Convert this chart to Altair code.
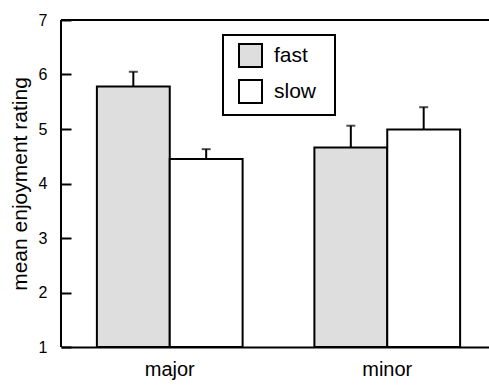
import altair as alt
import pandas as pd

keys = ["major", "major", "minor", "minor"]
speeds = ["fast", "slow", "fast", "slow"]
means = [5.78, 4.45, 4.66, 4.99]
uppers = [6.05, 4.63, 5.06, 5.40]
y_ticks = [1, 2, 3, 4, 5, 6, 7]
speed_order = ["fast", "slow"]
speed_colors = ["#dedede", "#ffffff"]

df = pd.DataFrame({"key": keys, "speed": speeds, "mean": means, "upper": uppers})

W, H = 428, 327
FONT = "Liberation Sans"

x = alt.X(
    "key:N",
    title=None,
    scale=alt.Scale(range=[0, 435], paddingInner=0.33, paddingOuter=0.165),
    axis=alt.Axis(ticks=False, domain=True, domainColor="black", domainWidth=2,
                  labelAngle=0, labelFontSize=20, labelPadding=12, labelColor="black",
                  labelFont=FONT),
)
xo = alt.XOffset("speed:N", sort=speed_order, scale=alt.Scale(paddingInner=0, paddingOuter=0))
yscale = alt.Scale(domain=[1, 7], nice=False, zero=False)
y = alt.Y(
    "mean:Q",
    scale=yscale,
    axis=alt.Axis(values=y_ticks, format="d", offset=-10, domain=False, ticks=True, tickSize=10,
                  tickWidth=2, tickColor="black", grid=False, labelFontSize=16,
                  labelPadding=14, labelColor="black", labelFont=FONT,
                  title="mean enjoyment rating", titleFontSize=21, titleFontWeight="normal",
                  titleColor="black", titleFont=FONT, titlePadding=8),
)

base = alt.Chart(df)

bars = base.mark_bar(stroke="black", strokeWidth=2).encode(
    x=x,
    xOffset=xo,
    y=y,
    y2=alt.datum(1),
    fill=alt.Fill(
        "speed:N",
        sort=speed_order,
        scale=alt.Scale(domain=speed_order, range=speed_colors),
        legend=alt.Legend(
            title=None, orient="none", legendX=162, legendY=15,
            strokeColor="black", padding=8, symbolType="square", symbolSize=529,
            symbolStrokeColor="black", symbolStrokeWidth=2, symbolOffset=7,
            labelOffset=11, labelFontSize=21, labelFont=FONT, labelColor="black",
            rowPadding=5, labelExpr="datum.label + '\u00a0\u2009\u200b'",
        ),
    ),
)

err = base.mark_rule(color="black", strokeWidth=2).encode(
    x=x, xOffset=xo, y=alt.Y("mean:Q", scale=yscale), y2="upper:Q"
)
caps = base.mark_tick(color="black", thickness=2, size=9, orient="horizontal").encode(
    x=x, xOffset=xo, y=alt.Y("upper:Q", scale=yscale)
)

frame_df = pd.DataFrame({"f": [0]})
top = alt.Chart(frame_df).mark_rule(color="black", strokeWidth=2).encode(
    x=alt.value(0), x2=alt.value(W + 20), y=alt.value(0)
)
left = alt.Chart(frame_df).mark_rule(color="black", strokeWidth=2).encode(
    x=alt.value(0), y=alt.value(0), y2=alt.value(H)
)

chart = (
    alt.layer(bars, err, caps, top, left)
    .properties(width=W, height=H, autosize=alt.AutoSizeParams(type="none"),
                padding={"left": 61, "top": 20, "right": 0, "bottom": 38})
    .configure_view(stroke=None)
    .configure_legend(strokeWidth=2)
)

chart.save("out.html", embed_options={"renderer": "svg", "actions": False})
